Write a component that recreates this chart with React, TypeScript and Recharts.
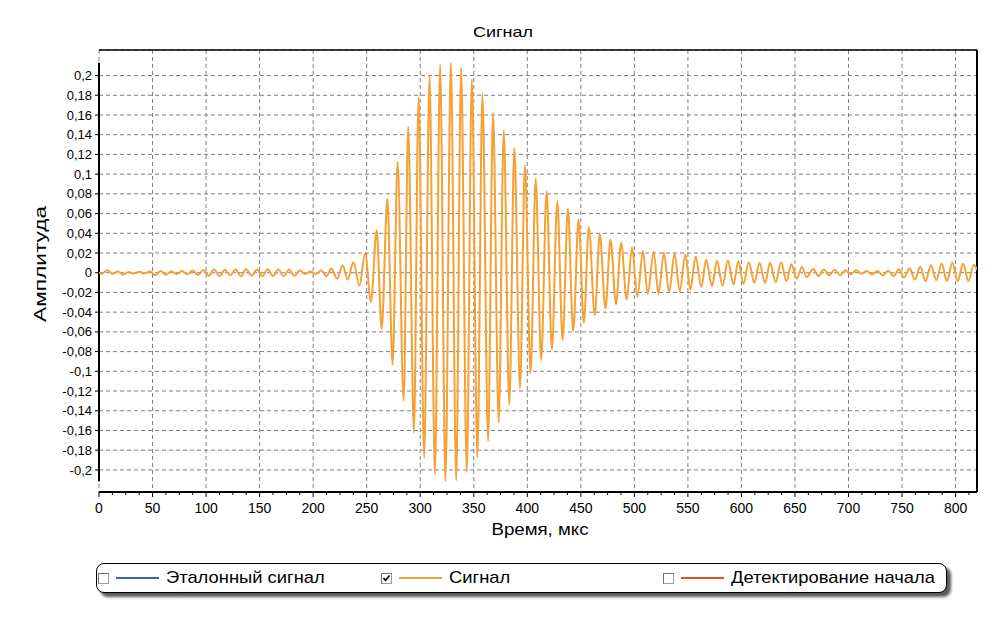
import React from 'react'
import { LineChart, Line, XAxis, YAxis, CartesianGrid, ReferenceLine } from 'recharts'

const timeUs = [
  0, 2.5, 7.5, 12.5, 17.5, 22.5, 27.5, 32.5, 37.5, 42.5, 47.5, 52.5, 57.5, 62.5, 67.5, 72.5, 77.5, 82.5, 87.5, 92.5,
  97.5, 102.5, 107.5, 112.5, 117.5, 122.5, 127.5, 132.5, 137.5, 142.5, 147.5, 152.5, 157.5, 162.5, 167.5, 172.5,
  177.5, 182.5, 187.5, 192.5, 197.5, 202.5, 207.5, 212.5,
  217, 222.4, 227.6, 232.3, 237.6, 243.2, 248.5, 254, 259.3, 264, 269.3, 274.2, 278.9, 284.5, 288.8, 294.1,
  298.5, 303.7, 308.7, 313.7, 318.6, 323.6, 328.6, 333.6, 338.2, 343.5, 348.2, 353.4, 358.1, 363.4, 368, 373.3,
  378, 383.2, 387.9, 393.2, 397.8, 403.1, 407.8, 413, 418, 423, 428, 433, 437.9, 442.9, 447.9, 452.8, 457.5, 463,
  467.7, 473, 477.7, 482.9, 487.6, 492.9, 497.8, 502.8, 508, 512.5, 518, 522.5, 527.6, 532.4, 537.6, 542.3,
  547.6, 552.3, 557.2, 562.6, 567, 572.6, 577, 582.4, 587.3, 592.6, 597, 601.9, 606.8, 612.1, 616.8, 622.1,
  626.7, 632, 637, 642, 646.6, 651.6, 656.5, 660.9, 667, 672, 677, 682, 687, 692, 697, 702, 707, 712, 717, 722,
  727, 732, 737, 742, 747, 752, 757, 762, 767, 772, 777, 782, 787, 792, 797, 802, 807, 812, 817, 820,
]

const amplitude = [
  0.0005, -0.0012, 0.0025, -0.001, 0.0012, -0.002, 0.0008, -0.0008, 0.001, -0.0006, 0.0014, -0.0025, 0.0018, -0.002,
  0.0015, -0.0012, 0.0018, -0.0016, 0.0022, -0.0024, 0.0028, -0.003, 0.0032, -0.0034, 0.003, -0.0026, 0.0032,
  -0.0035, 0.0034, -0.003, 0.0032, -0.0035, 0.0036, -0.0034, 0.0032, -0.0035, 0.0032, -0.003, 0.0022, -0.0014,
  0.0012, -0.0012, 0.0022, -0.0035,
  0.0043, -0.006, 0.0076, -0.0069, 0.0107, -0.013, 0.0195, -0.0295, 0.043, -0.057, 0.075, -0.093, 0.1125, -0.13,
  0.148, -0.162, 0.178, -0.1877, 0.1993, -0.2047, 0.2111, -0.2114, 0.2129, -0.2104, 0.2078, -0.2023, 0.1966,
  -0.1872, 0.1814, -0.1709, 0.1622, -0.1523, 0.1442, -0.1337, 0.1263, -0.1168, 0.1087, -0.1015, 0.0952, -0.0887,
  0.0827, -0.0779, 0.0725, -0.0684, 0.0648, -0.0593, 0.054, -0.0508, 0.0465, -0.0431, 0.0394, -0.0366, 0.0337,
  -0.0319, 0.0303, -0.0272, 0.0259, -0.0245, 0.0218, -0.0214, 0.0211, -0.0214, 0.0202, -0.0194, 0.0192, -0.0187,
  0.0185, -0.017, 0.0161, -0.0143, 0.0134, -0.0136, 0.0122, -0.013, 0.0124, -0.0119, 0.0117, -0.0112, 0.0107,
  -0.0102, 0.01, -0.0102, 0.01, -0.0095, 0.0105, -0.0085, 0.0085, -0.0061, 0.0059, -0.0044, 0.0039, -0.0034,
  0.0032, -0.0027, 0.003, -0.0027, 0.0025, -0.0017, 0.0025, -0.001, 0.0018, -0.0017, 0.0018, -0.0027, 0.002,
  -0.0034, 0.0035, -0.005, 0.0045, -0.0068, 0.006, -0.0085, 0.0076, -0.0075, 0.009, -0.0085, 0.01, -0.0085,
  0.009, -0.0085, 0.008, 0.003,
]

const xTicks = [0, 50, 100, 150, 200, 250, 300, 350, 400, 450, 500, 550, 600, 650, 700, 750, 800]
const yTicks = [
  -0.2, -0.18, -0.16, -0.14, -0.12, -0.1, -0.08, -0.06, -0.04, -0.02, 0,
  0.02, 0.04, 0.06, 0.08, 0.1, 0.12, 0.14, 0.16, 0.18, 0.2,
]

const legendItems = [
  { name: 'Эталонный сигнал', color: '#3d63b3', checked: false },
  { name: 'Сигнал', color: '#f7a033', checked: true },
  { name: 'Детектирование начала', color: '#f04a1c', checked: false },
]

const X_MAX = 820
const Y_MIN = -0.2224
const Y_MAX = 0.2259

const signalData = timeUs.map((t, i) => ({ t, v: amplitude[i] }))
const xMinorTicks = xTicks.flatMap((t) => [t + 12.5, t + 25, t + 37.5]).filter((t) => t < X_MAX)
const vMin = Math.min(...amplitude)
const vMax = Math.max(...amplitude)

const FONT = '"Liberation Sans", Arial, sans-serif'
const fmtY = (v: number) => String(+v.toFixed(2)).replace('.', ',')

function XTitle({ viewBox }: any) {
  const { x, y, width, height } = viewBox
  return (
    <text x={x + width / 2 + 2} y={y + height + 13} textAnchor="middle" fontSize={17} fontFamily={FONT}
      fill="#000" textLength={97} lengthAdjust="spacingAndGlyphs">
      Время, мкс
    </text>
  )
}

function YTitle() {
  const cx = 46
  const cy = 264
  return (
    <text x={cx} y={cy} transform={`rotate(-90 ${cx} ${cy})`} textAnchor="middle" fontSize={17} fontFamily={FONT}
      fill="#000" textLength={116} lengthAdjust="spacingAndGlyphs">
      Амплитуда
    </text>
  )
}

function CheckBox({ checked }: { checked: boolean }) {
  return (
    <svg width={11} height={11} style={{ position: 'absolute', left: 0, top: 9 }}>
      <rect x={0.5} y={0.5} width={10} height={10} fill="#fff" stroke="#a0a0a0" />
      <path d="M0.5 10.5 V0.5 H10.5" fill="none" stroke="#707070" />
      {checked && <path d="M2.5 5 L4.5 7.5 L8.5 2.5" fill="none" stroke="#000" strokeWidth={1.6} />}
    </svg>
  )
}

function ChartLegend() {
  const lefts = [1, 284, 566]
  return (
    <div
      style={{
        position: 'absolute', left: 96, top: 563, width: 849, height: 28,
        border: '1px solid #000', borderRadius: 8, background: '#fff',
        boxShadow: '4px 4px 3px rgba(0,0,0,0.65)', fontFamily: FONT, fontSize: 17,
      }}
    >
      {legendItems.map((item, i) => (
        <div key={item.name} style={{ position: 'absolute', left: lefts[i], top: 0, height: 28, width: 280 }}>
          <CheckBox checked={item.checked} />
          <div style={{ position: 'absolute', left: 18, top: 13, width: 43, height: 2, background: item.color }} />
          <div
            style={{
              position: 'absolute', left: 68, top: 4, whiteSpace: 'nowrap', lineHeight: '20px',
              transform: 'scaleX(1.08)', transformOrigin: 'left center',
            }}
          >
            {item.name}
          </div>
        </div>
      ))}
    </div>
  )
}

export default function App() {
  return (
    <div style={{ position: 'absolute', left: 0, top: 0, width: 1006, height: 618, background: '#fff', fontFamily: FONT }}>
      <div
        style={{
          position: 'absolute', left: 0, width: 1006, top: 23, textAlign: 'center', fontSize: 15,
          transform: 'scaleX(1.2)', transformOrigin: '503px 0',
        }}
      >
        Сигнал
      </div>
      <LineChart width={1006} height={618} data={signalData} margin={{ top: 50, right: 29, bottom: 96, left: 39 }}>
        <CartesianGrid stroke="#808080" strokeDasharray="4 3" />
        <XAxis
          type="number"
          dataKey="t"
          domain={[0, X_MAX]}
          ticks={xTicks}
          interval={0}
          allowDataOverflow
          height={30}
          tickSize={5}
          tickMargin={6}
          axisLine={{ stroke: '#000', strokeWidth: 2 }}
          tickLine={{ stroke: '#000' }}
          tick={{ fill: '#000', fontSize: 14, fontFamily: FONT }}
          label={{ content: XTitle }}
        />
        <YAxis
          type="number"
          domain={[Y_MIN, Y_MAX]}
          ticks={yTicks}
          interval={0}
          allowDataOverflow
          width={60}
          tickSize={4}
          tickMargin={3}
          axisLine={false}
          tickLine={{ stroke: '#000' }}
          tickFormatter={fmtY}
          tick={{ fill: '#000', fontSize: 13, fontFamily: FONT }}
          label={{ content: YTitle }}
        />
        {xMinorTicks.map((t) => (
          <ReferenceLine
            key={t}
            segment={[{ x: t, y: Y_MIN }, { x: t, y: Y_MIN - 0.003 }]}
            stroke="#000"
            ifOverflow="visible"
          />
        ))}
        <ReferenceLine y={Y_MAX} stroke="#000" strokeWidth={1.5} ifOverflow="visible" />
        <ReferenceLine x={X_MAX} stroke="#000" strokeWidth={2} ifOverflow="visible" />
        <ReferenceLine
          segment={[{ x: 0, y: vMin }, { x: 0, y: vMax }]}
          stroke="#000"
          strokeWidth={2}
          ifOverflow="visible"
        />
        <Line
          type="monotone"
          dataKey="v"
          stroke="#f7a033"
          strokeWidth={2}
          dot={false}
          isAnimationActive={false}
        />
      </LineChart>
      <ChartLegend />
    </div>
  )
}
